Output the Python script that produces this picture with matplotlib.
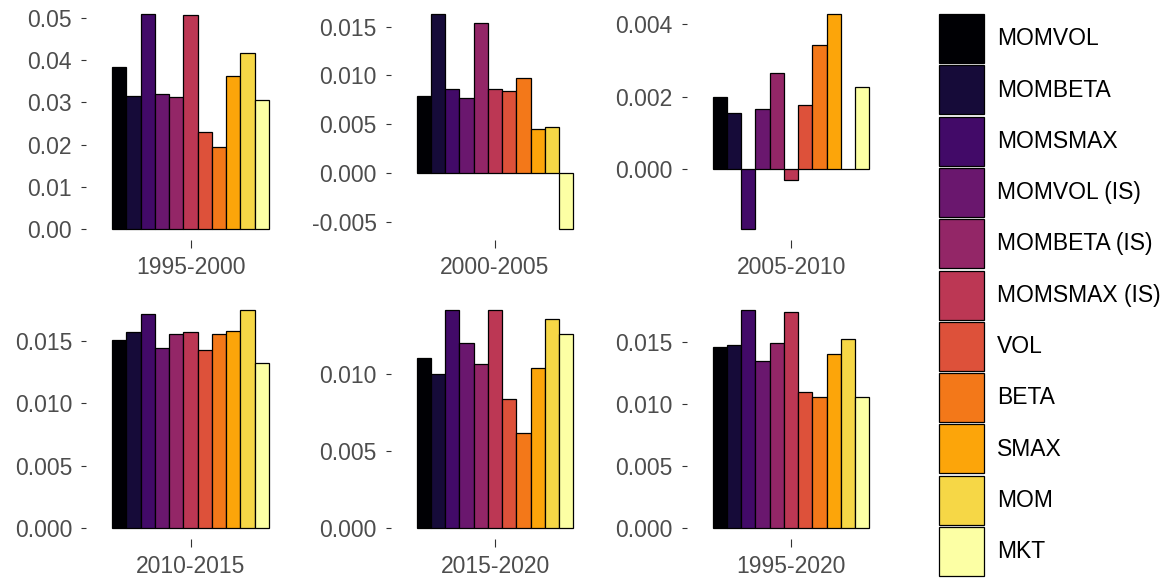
import matplotlib
matplotlib.use("Agg")
import matplotlib.pyplot as plt
import numpy as np

plt.rcParams['font.family'] = ['Liberation Sans', 'DejaVu Sans']

strategies = ["MOMVOL", "MOMBETA", "MOMSMAX", "MOMVOL (IS)", "MOMBETA (IS)",
              "MOMSMAX (IS)", "VOL", "BETA", "SMAX", "MOM", "MKT"]
colors = ["#000004", "#160B39", "#420A68", "#6A176E", "#932667", "#BC3754",
          "#DD513A", "#F37819", "#FCA50A", "#F6D746", "#FCFFA4"]
periods = ["1995-2000", "2000-2005", "2005-2010", "2010-2015", "2015-2020", "1995-2020"]

ret_1995_2000 = [0.0385, 0.0316, 0.0510, 0.0321, 0.0314, 0.0506, 0.0231, 0.0194, 0.0363, 0.0417, 0.0307]
ret_2000_2005 = [0.0079, 0.0163, 0.0086, 0.0077, 0.0154, 0.0086, 0.0084, 0.0097, 0.0045, 0.0047, -0.0057]
ret_2005_2010 = [0.00198, 0.00154, -0.00166, 0.00166, 0.00265, -0.00031, 0.00177, 0.00344, 0.00429, 0.0, 0.00227]
ret_2010_2015 = [0.01505, 0.01572, 0.01714, 0.01444, 0.01553, 0.01569, 0.01428, 0.01553, 0.01583, 0.01749, 0.01326]
ret_2015_2020 = [0.01102, 0.01000, 0.01417, 0.01204, 0.01065, 0.01417, 0.00839, 0.00617, 0.01039, 0.01357, 0.01263]
ret_1995_2020 = [0.01460, 0.01479, 0.01762, 0.01352, 0.01498, 0.01743, 0.01096, 0.01060, 0.01403, 0.01527, 0.01060]

yticks_1995_2000 = [0.00, 0.01, 0.02, 0.03, 0.04, 0.05]
yticks_2000_2005 = [-0.005, 0.000, 0.005, 0.010, 0.015]
yticks_2005_2010 = [0.000, 0.002, 0.004]
yticks_2010_2015 = [0.000, 0.005, 0.010, 0.015]
yticks_2015_2020 = [0.000, 0.005, 0.010]
yticks_1995_2020 = [0.000, 0.005, 0.010, 0.015]
tick_decimals = [2, 3, 3, 3, 3, 3]

all_values = [ret_1995_2000, ret_2000_2005, ret_2005_2010, ret_2010_2015, ret_2015_2020, ret_1995_2020]
all_ticks = [yticks_1995_2000, yticks_2000_2005, yticks_2005_2010, yticks_2010_2015, yticks_2015_2020, yticks_1995_2020]

W, H = 1163, 580
fig = plt.figure(figsize=(W / 100, H / 100), dpi=100)

# panel boxes in pixels: left, top, width, height
panels_px = [(86, 3, 209, 237), (390.5, 3, 209, 237), (686.6, 3, 209, 237),
             (86, 299, 209, 240), (390.5, 299, 209, 240), (686.6, 299, 209, 240)]

n = len(strategies)
bw = 0.9 / n
xs = 1 - 0.45 + bw * (np.arange(n) + 0.5)

handles = None
for k, (period, vals, ticks, dec) in enumerate(zip(periods, all_values, all_ticks, tick_decimals)):
    l, t, w, h = panels_px[k]
    ax = fig.add_axes([l / W, 1 - (t + h) / H, w / W, h / H])
    bars = []
    for i in range(n):
        b = ax.bar(xs[i], vals[i], width=bw, color=colors[i], edgecolor='black',
                   linewidth=0.9, label=strategies[i])
        bars.append(b)
    if handles is None:
        handles = bars
    ax.set_xlim(0.4, 1.6)
    lo = min(0, min(vals)); hi = max(0, max(vals)); pad = 0.05 * (hi - lo)
    ax.set_ylim(lo - pad, hi + pad)
    ax.set_yticks(ticks)
    ax.set_yticklabels([f"{v:.{dec}f}" for v in ticks])
    ax.set_xticks([1])
    ax.set_xticklabels([period])
    for s in ax.spines.values():
        s.set_visible(False)
    ax.tick_params(axis='y', length=3.5, width=0.8, color='#333333', pad=6.5,
                   labelsize=16.5, labelcolor='#4D4D4D')
    ax.tick_params(axis='x', length=5.5, width=0.8, color='#333333', pad=6,
                   labelsize=16.5, labelcolor='#4D4D4D')

fs = 16.5
fpx = fs / 0.72
key_h = 49 / fpx
hh = (key_h - 0.245) / 0.65
fig.legend(handles, strategies, loc='upper left',
           bbox_to_anchor=(939 / W, 1 - 14 / H), frameon=False, fontsize=fs,
           handlelength=45 / fpx, handleheight=hh, labelspacing=2.3 / fpx,
           handletextpad=13 / fpx, borderpad=0, borderaxespad=0)

fig.savefig("out.png", dpi=100)
